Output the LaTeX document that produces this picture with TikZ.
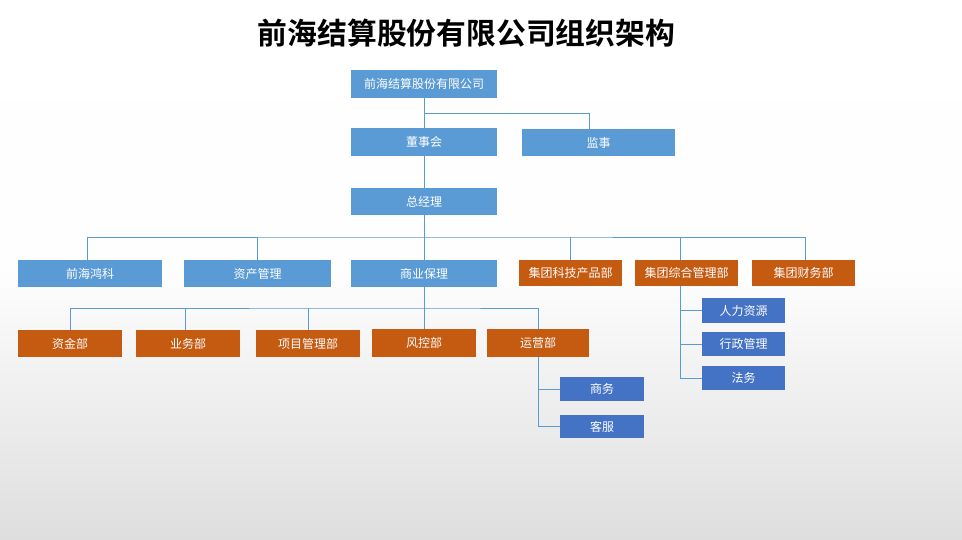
\documentclass[tikz,border=0pt]{standalone}
\usepackage{fontspec}
\setmainfont{Noto Sans CJK SC}
\newfontfamily\titlefont{Noto Sans CJK SC Bold}
\definecolor{lblue}{HTML}{5B9BD5}
\definecolor{dblue}{HTML}{4472C4}
\definecolor{orng}{HTML}{C55A11}
\definecolor{lnc}{HTML}{5B9BD5}
\definecolor{bgb}{HTML}{DEDEDE}
\begin{document}
\begin{tikzpicture}[x=1pt,y=-1pt,
  box/.style={rectangle, draw=none, text=white, inner sep=0pt, font=\fontsize{12}{14}\selectfont},
  lb/.style={box, fill=lblue},
  ob/.style={box, fill=orng},
  db/.style={box, fill=dblue},
  conn/.style={draw=lnc, line width=0.8pt}]
\shade[top color=white, bottom color=bgb, middle color=white!96!bgb] (0,0) rectangle (962,540);
\useasboundingbox (0,0) rectangle (962,540);
\node[font=\titlefont\fontsize{29.8}{32}\selectfont, text=black] (title) at (466.5,33) {前海结算股份有限公司组织架构};
% level nodes
\node[lb, minimum width=146, minimum height=28] (top) at (424,84) {前海结算股份有限公司};
\node[lb, minimum width=146, minimum height=28] (dsh) at (424,142) {董事会};
\node[lb, minimum width=153, minimum height=27] (js) at (598.5,142.5) {监事};
\node[lb, minimum width=146, minimum height=27] (zjl) at (424,201.5) {总经理};
\node[lb, minimum width=144, minimum height=27] (qhhk) at (90,273.5) {前海鸿科};
\node[lb, minimum width=147, minimum height=27] (zcgl) at (257.5,273.5) {资产管理};
\node[lb, minimum width=146, minimum height=27] (sybl) at (424,273.5) {商业保理};
\node[ob, minimum width=103, minimum height=26] (kjcp) at (570.5,273) {集团科技产品部};
\node[ob, minimum width=103, minimum height=26] (zhgl) at (686.5,273) {集团综合管理部};
\node[ob, minimum width=103, minimum height=26] (cwb) at (803.5,273) {集团财务部};
\node[ob, minimum width=104, minimum height=27] (zjb) at (70,343.5) {资金部};
\node[ob, minimum width=104, minimum height=27] (ywb) at (188,343.5) {业务部};
\node[ob, minimum width=104, minimum height=27] (xmgl) at (308,343.5) {项目管理部};
\node[ob, minimum width=104, minimum height=28] (fkb) at (424,343) {风控部};
\node[ob, minimum width=102, minimum height=28] (yyb) at (538,343) {运营部};
\node[db, minimum width=84, minimum height=24] (sw) at (602,389) {商务};
\node[db, minimum width=84, minimum height=23] (kf) at (602,426.5) {客服};
\node[db, minimum width=83, minimum height=25] (rlzy) at (743.5,310.5) {人力资源};
\node[db, minimum width=83, minimum height=24] (xzgl) at (743.5,344) {行政管理};
\node[db, minimum width=83, minimum height=24] (fw) at (743.5,378) {法务};
% coordinates
\coordinate (b1) at (424,113);
\coordinate (b2) at (424,237);
\coordinate (b3) at (424,308);
% connectors
\draw[conn] (top.south) -- (dsh.north);
\draw[conn] (b1) -| ([xshift=-9]js.north);
\draw[conn] (dsh.south) -- (zjl.north);
\draw[conn] (zjl.south) -- (sybl.north);
\draw[conn] ([xshift=-3]qhhk.north) |- (b2) -| ([xshift=2]cwb.north);
\draw[conn] (zcgl.north) -- (zcgl.north |- b2);
\draw[conn] (kjcp.north) -- (kjcp.north |- b2);
\draw[conn] ([xshift=-6]zhgl.north) -- ([xshift=-6]zhgl.north |- b2);
\draw[conn] (sybl.south) -- (fkb.north);
\draw[conn] (zjb.north) |- (b3) -| (yyb.north);
\draw[conn] ([xshift=-3]ywb.north) -- ([xshift=-3]ywb.north |- b3);
\draw[conn] (xmgl.north) -- (xmgl.north |- b3);
\draw[conn] (yyb.south) |- (kf.west);
\draw[conn] (yyb.south |- sw.west) -- (sw.west);
\draw[conn] ([xshift=-6]zhgl.south) |- (fw.west);
\draw[conn] ([xshift=-6]zhgl.south |- rlzy.west) -- (rlzy.west);
\draw[conn] ([xshift=-6]zhgl.south |- xzgl.west) -- (xzgl.west);
\end{tikzpicture}
\end{document}
